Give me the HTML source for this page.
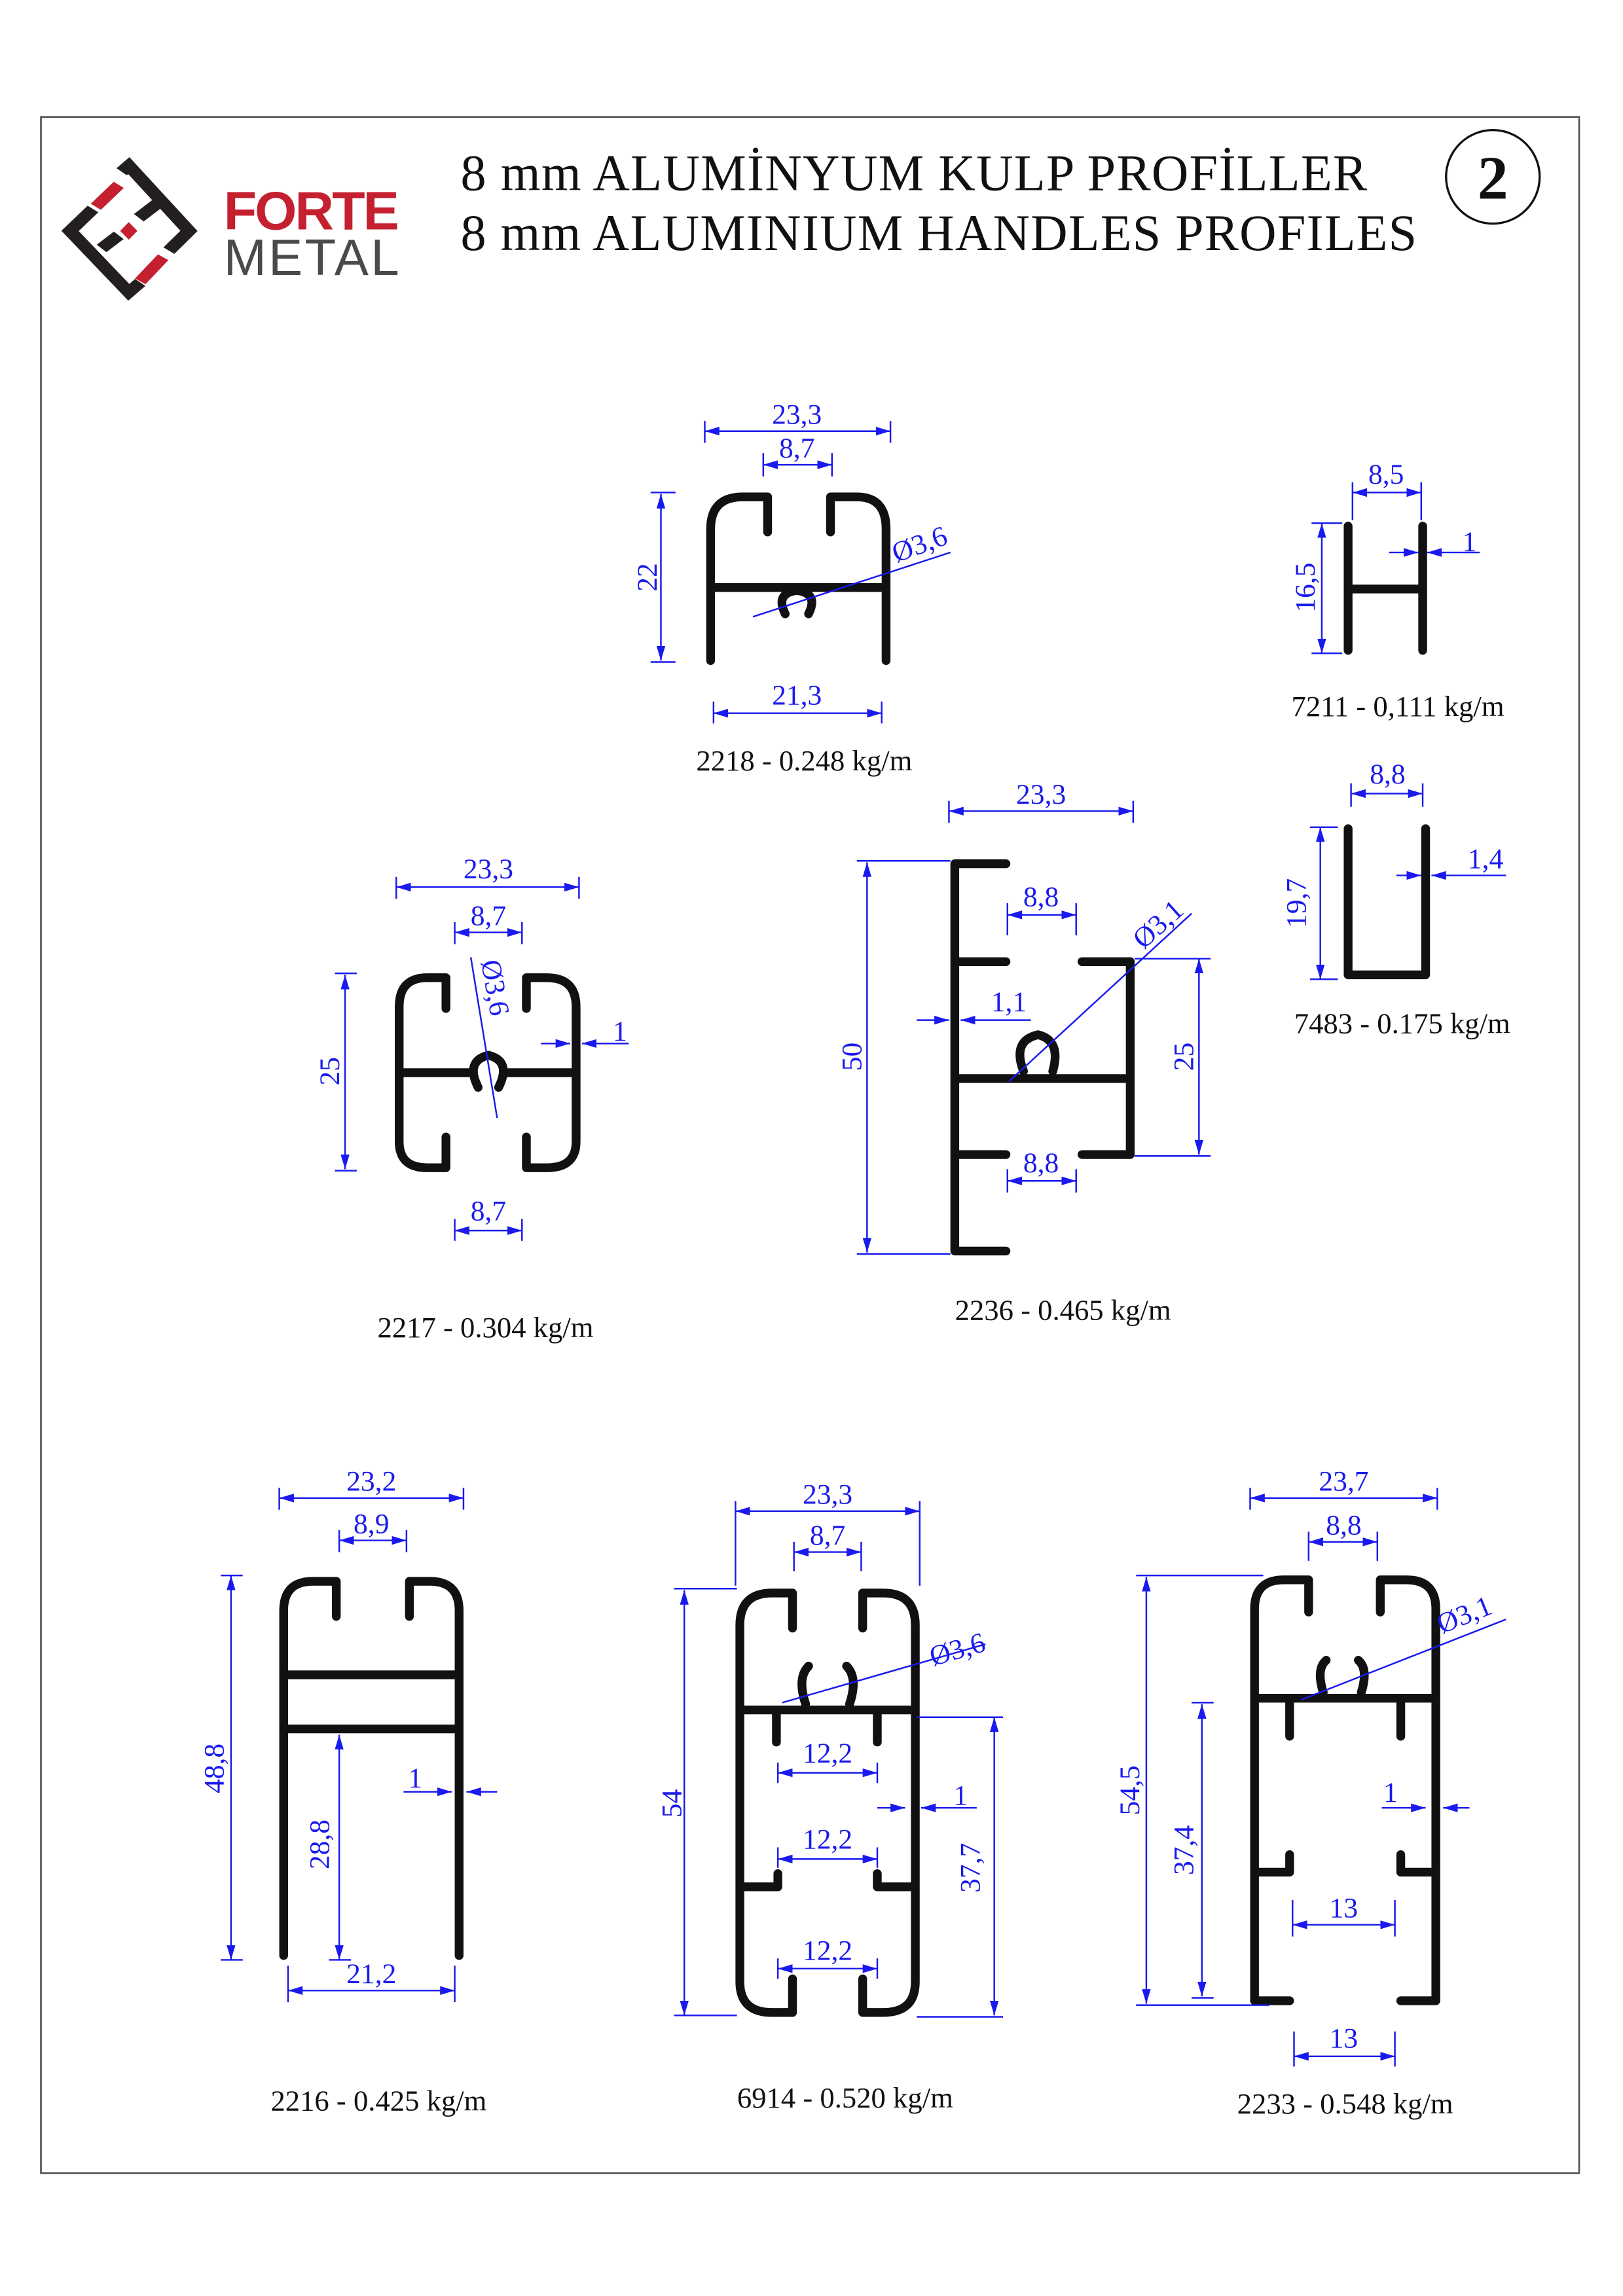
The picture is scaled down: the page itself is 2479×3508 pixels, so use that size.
<!DOCTYPE html>
<html><head><meta charset="utf-8"><style>
html,body{margin:0;padding:0;background:#fff}
svg{display:block}
.p{fill:none;stroke:#111;stroke-width:6;stroke-linejoin:round;stroke-linecap:round}
.d{stroke:#1a1aee;stroke-width:1.1;fill:none}
.t{fill:#1a1aee;font-family:"Liberation Serif",serif;font-size:19.5px}
.l{fill:#111;font-family:"Liberation Serif",serif;font-size:20px}
</style></head><body>
<svg width="2479" height="3508" viewBox="0 0 1110 1571" preserveAspectRatio="none" xmlns="http://www.w3.org/2000/svg">
<defs>
<marker id="a" viewBox="0 0 10 6" refX="10" refY="3" markerWidth="10" markerHeight="6" orient="auto-start-reverse" markerUnits="userSpaceOnUse"><path d="M0,0L10,3L0,6z" fill="#1a1aee"/></marker>
</defs>
<rect x="0" y="0" width="1110" height="1571" fill="#fff"/>
<rect x="28" y="80" width="1052" height="1407" fill="none" stroke="#555" stroke-width="1.2"/>

<!-- logo -->
<g transform="translate(28.3,80) scale(0.196,0.15)">
<g fill="none" stroke="#231f20" stroke-width="48">
<path d="M180,420L100,520L305,800L345,755"/>
<path d="M210,600L270,540"/>
<path d="M280,250L305,222L515,520L445,610"/>
<path d="M340,460L430,370"/>
</g>
<g fill="none" stroke="#c4202f" stroke-width="45">
<path d="M190,410L270,310"/>
<path d="M345,750L425,640"/>
</g>
<polygon points="305,480 335,520 305,560 275,520" fill="#c4202f"/>
</g>
<text x="153" y="157" font-family="Liberation Sans,sans-serif" font-weight="bold" font-size="37" fill="#c4202f" textLength="120">FORTE</text>
<text x="153" y="188" font-family="Liberation Sans,sans-serif" font-size="35" fill="#4a4a4a" textLength="120">METAL</text>
<text x="315" y="130" font-family="Liberation Serif,serif" font-size="35" fill="#111" textLength="620">8 mm ALUMİNYUM KULP PROFİLLER</text>
<text x="315" y="171" font-family="Liberation Serif,serif" font-size="35" fill="#111" textLength="654">8 mm ALUMINIUM HANDLES PROFILES</text>
<circle cx="1021" cy="121" r="32" fill="none" stroke="#111" stroke-width="1.5"/>
<text x="1021" y="136" text-anchor="middle" font-family="Liberation Serif,serif" font-weight="bold" font-size="42" fill="#111">2</text>

<!-- 2218 -->
<path class="p" d="M486,452V362Q486,340 508,340H525V364M568,364V340H586Q606,340 606,362V452M486,402H606M537,420Q530,406 545,404Q560,406 553,420"/>
<g class="d"><line x1="482" y1="295" x2="609" y2="295" marker-start="url(#a)" marker-end="url(#a)"/><line x1="482" y1="288" x2="482" y2="303"/><line x1="609" y1="288" x2="609" y2="303"/>
<line x1="522" y1="318" x2="569" y2="318" marker-start="url(#a)" marker-end="url(#a)"/><line x1="522" y1="310" x2="522" y2="326"/><line x1="569" y1="310" x2="569" y2="326"/>
<line x1="452" y1="338" x2="452" y2="452" marker-start="url(#a)" marker-end="url(#a)"/><line x1="445" y1="337" x2="462" y2="337"/><line x1="445" y1="453" x2="462" y2="453"/>
<line x1="488" y1="488" x2="603" y2="488" marker-start="url(#a)" marker-end="url(#a)"/><line x1="488" y1="480" x2="488" y2="495"/><line x1="603" y1="480" x2="603" y2="495"/>
<line x1="515" y1="422" x2="650" y2="378"/></g>
<text class="t" x="545" y="290" text-anchor="middle">23,3</text><text class="t" x="545" y="313" text-anchor="middle">8,7</text>
<text class="t" x="545" y="482" text-anchor="middle">21,3</text>
<text class="t" transform="translate(449,395) rotate(-90)" text-anchor="middle">22</text>
<text class="t" transform="translate(613,385) rotate(-20)">Ø3,6</text>
<text class="l" x="550" y="527" text-anchor="middle">2218 - 0.248 kg/m</text>

<!-- 7211 -->
<path class="p" d="M922,360V445M973,360V445M922,403H973"/>
<g class="d"><line x1="925" y1="337" x2="972" y2="337" marker-start="url(#a)" marker-end="url(#a)"/><line x1="925" y1="330" x2="925" y2="356"/><line x1="972" y1="330" x2="972" y2="356"/>
<line x1="904" y1="358" x2="904" y2="447" marker-start="url(#a)" marker-end="url(#a)"/><line x1="897" y1="358" x2="918" y2="358"/><line x1="897" y1="447" x2="918" y2="447"/>
<line x1="950" y1="378" x2="970" y2="378" marker-end="url(#a)"/><line x1="1012" y1="378" x2="976" y2="378" marker-end="url(#a)"/></g>
<text class="t" x="948" y="331" text-anchor="middle">8,5</text><text class="t" x="1005" y="377" text-anchor="middle">1</text>
<text class="t" transform="translate(899,402) rotate(-90)" text-anchor="middle">16,5</text>
<text class="l" x="956" y="490" text-anchor="middle">7211 - 0,111 kg/m</text>

<!-- 7483 -->
<path class="p" d="M922,567V667H975V567"/>
<g class="d"><line x1="924" y1="543" x2="973" y2="543" marker-start="url(#a)" marker-end="url(#a)"/><line x1="924" y1="536" x2="924" y2="552"/><line x1="973" y1="536" x2="973" y2="552"/>
<line x1="903" y1="566" x2="903" y2="670" marker-start="url(#a)" marker-end="url(#a)"/><line x1="896" y1="566" x2="915" y2="566"/><line x1="896" y1="670" x2="915" y2="670"/>
<line x1="955" y1="599" x2="972" y2="599" marker-end="url(#a)"/><line x1="1030" y1="599" x2="979" y2="599" marker-end="url(#a)"/></g>
<text class="t" x="949" y="536" text-anchor="middle">8,8</text><text class="t" x="1016" y="594" text-anchor="middle">1,4</text>
<text class="t" transform="translate(893,618) rotate(-90)" text-anchor="middle">19,7</text>
<text class="l" x="959" y="707" text-anchor="middle">7483 - 0.175 kg/m</text>

<!-- 2217 -->
<path class="p" d="M305,690V669H292Q273,669 273,689V781Q273,799 292,799H305V778M360,690V669H374Q394,669 394,689V781Q394,799 374,799H360V778M273,734H322M345,734H394M327,744Q318,726 334,722Q350,726 341,744"/>
<g class="d"><line x1="271" y1="607" x2="396" y2="607" marker-start="url(#a)" marker-end="url(#a)"/><line x1="271" y1="600" x2="271" y2="615"/><line x1="396" y1="600" x2="396" y2="615"/>
<line x1="311" y1="638" x2="357" y2="638" marker-start="url(#a)" marker-end="url(#a)"/><line x1="311" y1="631" x2="311" y2="646"/><line x1="357" y1="631" x2="357" y2="646"/>
<line x1="236" y1="667" x2="236" y2="800" marker-start="url(#a)" marker-end="url(#a)"/><line x1="229" y1="666" x2="244" y2="666"/><line x1="229" y1="801" x2="244" y2="801"/>
<line x1="311" y1="842" x2="357" y2="842" marker-start="url(#a)" marker-end="url(#a)"/><line x1="311" y1="834" x2="311" y2="849"/><line x1="357" y1="834" x2="357" y2="849"/>
<line x1="370" y1="714" x2="390" y2="714" marker-end="url(#a)"/><line x1="430" y1="714" x2="398" y2="714" marker-end="url(#a)"/>
<line x1="322" y1="655" x2="340" y2="765"/></g>
<text class="t" x="334" y="601" text-anchor="middle">23,3</text><text class="t" x="334" y="633" text-anchor="middle">8,7</text>
<text class="t" x="334" y="835" text-anchor="middle">8,7</text><text class="t" x="424" y="712" text-anchor="middle">1</text>
<text class="t" transform="translate(232,733) rotate(-90)" text-anchor="middle">25</text>
<text class="t" transform="translate(329,658) rotate(80)">Ø3,6</text>
<text class="l" x="332" y="915" text-anchor="middle">2217 - 0.304 kg/m</text>

<!-- 2236 -->
<path class="p" d="M688,591H653V856H688M653,658H688M740,658H773V790H740M653,738H773M653,790H688M700,733Q692,712 710,708Q726,712 720,733"/>
<g class="d"><line x1="649" y1="555" x2="775" y2="555" marker-start="url(#a)" marker-end="url(#a)"/><line x1="649" y1="548" x2="649" y2="563"/><line x1="775" y1="548" x2="775" y2="563"/>
<line x1="689" y1="626" x2="736" y2="626" marker-start="url(#a)" marker-end="url(#a)"/><line x1="689" y1="618" x2="689" y2="640"/><line x1="736" y1="618" x2="736" y2="640"/>
<line x1="593" y1="590" x2="593" y2="857" marker-start="url(#a)" marker-end="url(#a)"/><line x1="586" y1="589" x2="650" y2="589"/><line x1="586" y1="858" x2="650" y2="858"/>
<line x1="627" y1="698" x2="649" y2="698" marker-end="url(#a)"/><line x1="705" y1="698" x2="657" y2="698" marker-end="url(#a)"/>
<line x1="820" y1="656" x2="820" y2="790" marker-start="url(#a)" marker-end="url(#a)"/><line x1="776" y1="656" x2="828" y2="656"/><line x1="776" y1="791" x2="828" y2="791"/>
<line x1="689" y1="808" x2="736" y2="808" marker-start="url(#a)" marker-end="url(#a)"/><line x1="689" y1="800" x2="689" y2="816"/><line x1="736" y1="800" x2="736" y2="816"/>
<line x1="690" y1="740" x2="815" y2="625"/></g>
<text class="t" x="712" y="550" text-anchor="middle">23,3</text><text class="t" x="712" y="620" text-anchor="middle">8,8</text>
<text class="t" x="690" y="692" text-anchor="middle">1,1</text><text class="t" x="712" y="802" text-anchor="middle">8,8</text>
<text class="t" transform="translate(589,723) rotate(-90)" text-anchor="middle">50</text>
<text class="t" transform="translate(816,723) rotate(-90)" text-anchor="middle">25</text>
<text class="t" transform="translate(782,650) rotate(-42)">Ø3,1</text>
<text class="l" x="727" y="903" text-anchor="middle">2236 - 0.465 kg/m</text>

<!-- 2216 -->
<path class="p" d="M194,1338V1102Q194,1082 214,1082H230V1106M280,1106V1082H294Q314,1082 314,1102V1338M194,1146H314M194,1183H314"/>
<g class="d"><line x1="191" y1="1025" x2="317" y2="1025" marker-start="url(#a)" marker-end="url(#a)"/><line x1="191" y1="1018" x2="191" y2="1033"/><line x1="317" y1="1018" x2="317" y2="1033"/>
<line x1="232" y1="1054" x2="278" y2="1054" marker-start="url(#a)" marker-end="url(#a)"/><line x1="232" y1="1047" x2="232" y2="1062"/><line x1="278" y1="1047" x2="278" y2="1062"/>
<line x1="158" y1="1078" x2="158" y2="1341" marker-start="url(#a)" marker-end="url(#a)"/><line x1="151" y1="1078" x2="166" y2="1078"/><line x1="151" y1="1341" x2="166" y2="1341"/>
<line x1="232" y1="1187" x2="232" y2="1341" marker-start="url(#a)" marker-end="url(#a)"/><line x1="225" y1="1341" x2="240" y2="1341"/>
<line x1="197" y1="1362" x2="311" y2="1362" marker-start="url(#a)" marker-end="url(#a)"/><line x1="197" y1="1345" x2="197" y2="1370"/><line x1="311" y1="1345" x2="311" y2="1370"/>
<line x1="276" y1="1226" x2="309" y2="1226" marker-end="url(#a)"/><line x1="340" y1="1226" x2="319" y2="1226" marker-end="url(#a)"/></g>
<text class="t" x="254" y="1020" text-anchor="middle">23,2</text><text class="t" x="254" y="1049" text-anchor="middle">8,9</text>
<text class="t" x="254" y="1357" text-anchor="middle">21,2</text><text class="t" x="284" y="1223" text-anchor="middle">1</text>
<text class="t" transform="translate(153,1210) rotate(-90)" text-anchor="middle">48,8</text>
<text class="t" transform="translate(225,1262) rotate(-90)" text-anchor="middle">28,8</text>
<text class="l" x="259" y="1444" text-anchor="middle">2216 - 0.425 kg/m</text>

<!-- 6914 -->
<path class="p" d="M542,1114V1090H528Q506,1090 506,1112V1356Q506,1377 528,1377H542V1354M590,1114V1090H604Q626,1090 626,1112V1356Q626,1377 604,1377H590V1354M506,1170H626M531,1170V1192M600,1170V1192M506,1291H532V1282M626,1291H600V1282M551,1166Q545,1148 553,1140M581,1166Q587,1148 579,1140"/>
<g class="d"><line x1="503" y1="1034" x2="629" y2="1034" marker-start="url(#a)" marker-end="url(#a)"/><line x1="503" y1="1027" x2="503" y2="1085"/><line x1="629" y1="1027" x2="629" y2="1085"/>
<line x1="543" y1="1062" x2="589" y2="1062" marker-start="url(#a)" marker-end="url(#a)"/><line x1="543" y1="1055" x2="543" y2="1075"/><line x1="589" y1="1055" x2="589" y2="1075"/>
<line x1="468" y1="1088" x2="468" y2="1379" marker-start="url(#a)" marker-end="url(#a)"/><line x1="461" y1="1087" x2="504" y2="1087"/><line x1="461" y1="1379" x2="504" y2="1379"/>
<line x1="680" y1="1175" x2="680" y2="1379" marker-start="url(#a)" marker-end="url(#a)"/><line x1="627" y1="1175" x2="686" y2="1175"/><line x1="627" y1="1380" x2="686" y2="1380"/>
<line x1="532" y1="1213" x2="600" y2="1213" marker-start="url(#a)" marker-end="url(#a)"/><line x1="532" y1="1206" x2="532" y2="1220"/><line x1="600" y1="1206" x2="600" y2="1220"/>
<line x1="532" y1="1272" x2="600" y2="1272" marker-start="url(#a)" marker-end="url(#a)"/><line x1="532" y1="1264" x2="532" y2="1278"/><line x1="600" y1="1264" x2="600" y2="1278"/>
<line x1="532" y1="1347" x2="600" y2="1347" marker-start="url(#a)" marker-end="url(#a)"/><line x1="532" y1="1340" x2="532" y2="1354"/><line x1="600" y1="1340" x2="600" y2="1354"/>
<line x1="600" y1="1237" x2="619" y2="1237" marker-end="url(#a)"/><line x1="668" y1="1237" x2="630" y2="1237" marker-end="url(#a)"/>
<line x1="535" y1="1165" x2="674" y2="1125"/></g>
<text class="t" x="566" y="1029" text-anchor="middle">23,3</text><text class="t" x="566" y="1057" text-anchor="middle">8,7</text>
<text class="t" x="566" y="1206" text-anchor="middle">12,2</text><text class="t" x="566" y="1265" text-anchor="middle">12,2</text><text class="t" x="566" y="1341" text-anchor="middle">12,2</text>
<text class="t" x="657" y="1235" text-anchor="middle">1</text>
<text class="t" transform="translate(466,1234) rotate(-90)" text-anchor="middle">54</text>
<text class="t" transform="translate(670,1278) rotate(-90)" text-anchor="middle">37,7</text>
<text class="t" transform="translate(638,1140) rotate(-16)">Ø3,6</text>
<text class="l" x="578" y="1442" text-anchor="middle">6914 - 0.520 kg/m</text>

<!-- 2233 -->
<path class="p" d="M895,1103V1081H878Q858,1081 858,1101V1369H882M944,1103V1081H962Q982,1081 982,1101V1369H958M858,1162H982M882,1162V1188M958,1162V1188M858,1281H882V1269M982,1281H958V1269M905,1158Q900,1142 907,1136M931,1158Q936,1142 929,1136"/>
<g class="d"><line x1="855" y1="1025" x2="983" y2="1025" marker-start="url(#a)" marker-end="url(#a)"/><line x1="855" y1="1018" x2="855" y2="1033"/><line x1="983" y1="1018" x2="983" y2="1033"/>
<line x1="895" y1="1055" x2="942" y2="1055" marker-start="url(#a)" marker-end="url(#a)"/><line x1="895" y1="1048" x2="895" y2="1068"/><line x1="942" y1="1048" x2="942" y2="1068"/>
<line x1="784" y1="1079" x2="784" y2="1371" marker-start="url(#a)" marker-end="url(#a)"/><line x1="777" y1="1078" x2="864" y2="1078"/><line x1="777" y1="1372" x2="868" y2="1372"/>
<line x1="822" y1="1166" x2="822" y2="1366" marker-start="url(#a)" marker-end="url(#a)"/><line x1="815" y1="1165" x2="830" y2="1165"/><line x1="815" y1="1367" x2="830" y2="1367"/>
<line x1="884" y1="1317" x2="954" y2="1317" marker-start="url(#a)" marker-end="url(#a)"/><line x1="884" y1="1300" x2="884" y2="1325"/><line x1="954" y1="1300" x2="954" y2="1325"/>
<line x1="885" y1="1407" x2="954" y2="1407" marker-start="url(#a)" marker-end="url(#a)"/><line x1="885" y1="1390" x2="885" y2="1414"/><line x1="954" y1="1390" x2="954" y2="1414"/>
<line x1="945" y1="1237" x2="975" y2="1237" marker-end="url(#a)"/><line x1="1005" y1="1237" x2="987" y2="1237" marker-end="url(#a)"/>
<line x1="890" y1="1163" x2="1030" y2="1108"/></g>
<text class="t" x="919" y="1020" text-anchor="middle">23,7</text><text class="t" x="919" y="1050" text-anchor="middle">8,8</text>
<text class="t" x="919" y="1312" text-anchor="middle">13</text><text class="t" x="919" y="1401" text-anchor="middle">13</text>
<text class="t" x="951" y="1233" text-anchor="middle">1</text>
<text class="t" transform="translate(779,1225) rotate(-90)" text-anchor="middle">54,5</text>
<text class="t" transform="translate(816,1266) rotate(-90)" text-anchor="middle">37,4</text>
<text class="t" transform="translate(986,1118) rotate(-22)">Ø3,1</text>
<text class="l" x="920" y="1446" text-anchor="middle">2233 - 0.548 kg/m</text>
</svg>
</body></html>
